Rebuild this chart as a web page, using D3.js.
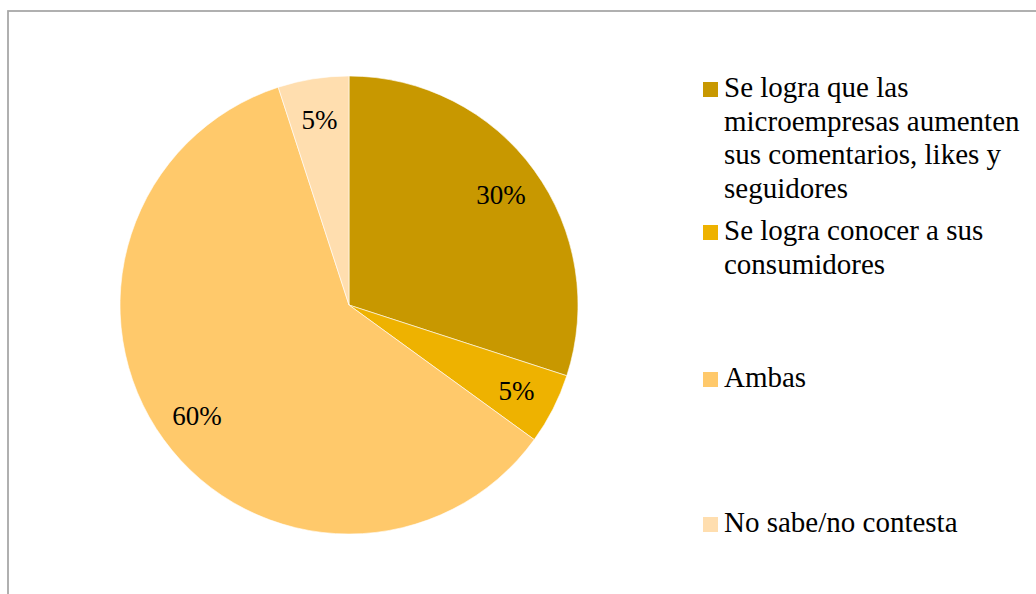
<!DOCTYPE html>
<html>
<head>
<meta charset="utf-8">
<script src="https://cdn.jsdelivr.net/npm/d3@7/dist/d3.min.js"></script>
<style>
  html, body { margin: 0; padding: 0; background: #fff; }
  svg { display: block; }
</style>
</head>
<body>
<svg id="chart" width="1036" height="594"></svg>
<script>
// Survey answers and their shares (percent)
const categories = [
  "Se logra que las microempresas aumenten sus comentarios, likes y seguidores",
  "Se logra conocer a sus consumidores",
  "Ambas",
  "No sabe/no contesta"
];
const values = [30, 5, 60, 5];
const colors = ["#C89800", "#EEB200", "#FFC96B", "#FFDEAF"];
// Legend text broken into lines as it wraps in the legend column
const legendLines = [
  ["Se logra que las", "microempresas aumenten", "sus comentarios, likes y", "seguidores"],
  ["Se logra conocer a sus", "consumidores"],
  ["Ambas"],
  ["No sabe/no contesta"]
];

const FONT = "'Liberation Serif', 'Times New Roman', Tinos, 'Nimbus Roman', Times";
const svg = d3.select("#chart");

// Chart frame (runs off the right and bottom edges)
svg.append("rect")
  .attr("x", 8).attr("y", 11)
  .attr("width", 1200).attr("height", 800)
  .attr("fill", "none")
  .attr("stroke", "#A6A6A6")
  .attr("stroke-width", 1.75);

const cx = 349, cy = 305, R = 229;
const data = categories.map((c, i) => ({ name: c, value: values[i], color: colors[i] }));

const pie = d3.pie().value(d => d.value).sort(null);
const arc = d3.arc().innerRadius(0).outerRadius(R);
const labelArc = d3.arc().innerRadius(188).outerRadius(188);

const g = svg.append("g").attr("transform", `translate(${cx},${cy})`);
const arcs = pie(data);

g.selectAll("path.slice")
  .data(arcs)
  .enter().append("path")
  .attr("class", "slice")
  .attr("d", arc)
  .attr("fill", d => d.data.color)
  .attr("stroke", "#fff")
  .attr("stroke-width", 0.6);

g.selectAll("text.pct")
  .data(arcs)
  .enter().append("text")
  .attr("class", "pct")
  .attr("transform", d => `translate(${labelArc.centroid(d)})`)
  .attr("text-anchor", "middle")
  .attr("dy", "0.34em")
  .style("font-family", FONT)
  .style("font-size", "27px")
  .attr("fill", "#000")
  .text(d => d3.format(".0%")(d.data.value / 100));

// Legend
const legendX = 703, textX = 724, lineH = 33.6;
const firstBaselines = [97, 240, 387, 532];
const legend = svg.append("g");
legendLines.forEach((lines, i) => {
  const b = firstBaselines[i];
  legend.append("rect")
    .attr("x", legendX).attr("y", b - 15)
    .attr("width", 15).attr("height", 15)
    .attr("fill", colors[i]);
  const t = legend.append("text")
    .attr("x", textX).attr("y", b)
    .style("font-family", FONT)
    .style("font-size", "29px")
    .attr("fill", "#000");
  lines.forEach((ln, j) => {
    t.append("tspan").attr("x", textX).attr("y", b + j * lineH).text(ln);
  });
});
</script>
</body>
</html>
